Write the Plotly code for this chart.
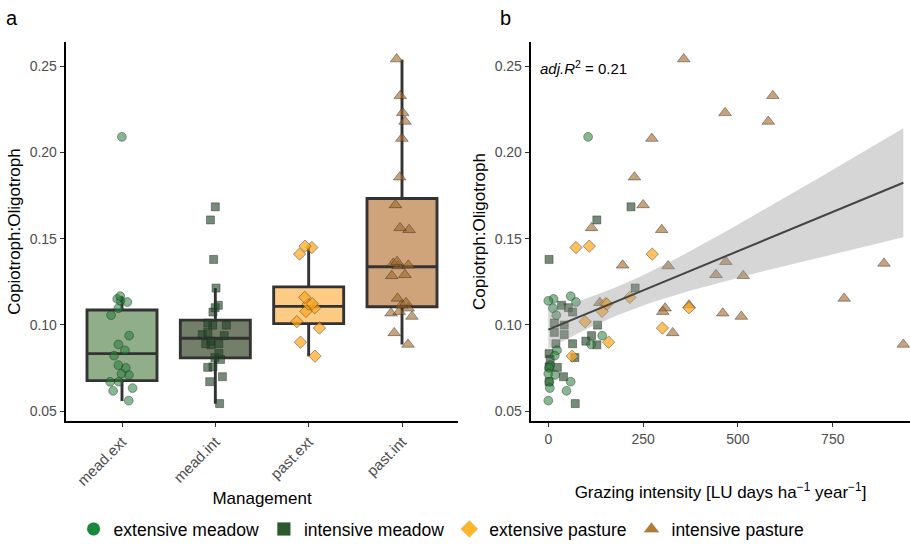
import numpy as np
import plotly.graph_objects as go

# ---------------- data ----------------
categories = ["mead.ext", "mead.int", "past.ext", "past.int"]
group_names = ["extensive meadow", "intensive meadow", "extensive pasture", "intensive pasture"]

ext_meadow_graz = [105, 59, 14, 0, 73, 12, 21, 142, 113, 23, 17, 5, 2, 0, 18, 3, 59, 4, 48, 0]
ext_meadow_ratio = [0.2091, 0.1167, 0.1151, 0.1140, 0.1133, 0.1097, 0.1057, 0.0938, 0.0887, 0.0853,
                    0.0822, 0.0767, 0.0751, 0.0717, 0.0710, 0.0670, 0.0671, 0.0634, 0.0618, 0.0561]

int_meadow_graz = [218, 128, 2, 229, 35, 53, 64, 16, 42, 130, 16, 42, 114, 99, 64, 128, 20, 2, 70, 5,
                   24, 2, 40, 2, 71]
int_meadow_ratio = [0.1685, 0.1609, 0.1380, 0.1214, 0.1114, 0.1100, 0.1075, 0.1011, 0.0999, 0.0999,
                    0.0957, 0.0944, 0.0938, 0.0906, 0.0891, 0.0885, 0.0891, 0.0834, 0.0811, 0.0800,
                    0.0754, 0.0757, 0.0700, 0.0671, 0.0544]

ext_pasture_graz = [73, 108, 274, 215, 151, 155, 142, 97, 301, 159, 63, 371]
ext_pasture_ratio = [0.1449, 0.1457, 0.1411, 0.1160, 0.1123, 0.1121, 0.1079, 0.1019, 0.0982, 0.0900,
                     0.0819, 0.1100]

int_pasture_graz = [357, 592, 466, 580, 273, 227, 250, 299, 114, 196, 316, 468, 442, 514, 885, 780,
                    136, 371, 308, 302, 460, 509, 328, 936]
int_pasture_ratio = [0.2542, 0.2329, 0.2230, 0.2180, 0.2081, 0.1857, 0.1696, 0.1552, 0.1563, 0.1346,
                     0.1342, 0.1367, 0.1291, 0.1285, 0.1357, 0.1154, 0.1129, 0.1115, 0.1097, 0.1077,
                     0.1068, 0.1049, 0.0954, 0.0887]

# box statistics
box_q1 = [0.0677, 0.0809, 0.1008, 0.1106]
box_median = [0.0834, 0.0923, 0.1108, 0.1338]
box_q3 = [0.1087, 0.1028, 0.1221, 0.1733]
box_lower = [0.0559, 0.0543, 0.0818, 0.0887]
box_upper = [0.1165, 0.1214, 0.1457, 0.2538]

y_ticks = [0.05, 0.10, 0.15, 0.20, 0.25]
x2_ticks = [0, 250, 500, 750]
r2_label = "<i>adj.R</i><sup>2</sup> = 0.21"

# ---------------- styles ----------------
FONT = "Liberation Sans, Arial, sans-serif"
box_fill = ["#8fae89", "#747f69", "#fdcb84", "#cfa47b"]
point_fill = ["rgba(35,125,55,0.55)", "rgba(30,70,35,0.62)", "rgba(255,168,30,0.72)", "rgba(165,105,40,0.62)"]
legend_fill = ["#17893a", "#2b5b2d", "#ffb627", "#b27b32"]
symbols = ["circle", "square", "diamond", "triangle-up"]
sizes = [8.8, 8, 9.5, 11]
outline = dict(color="rgba(40,40,40,0.55)", width=0.8)

graz = [ext_meadow_graz, int_meadow_graz, ext_pasture_graz, int_pasture_graz]
ratio = [ext_meadow_ratio, int_meadow_ratio, ext_pasture_ratio, int_pasture_ratio]

fig = go.Figure()

# panel a: boxes
for i, c in enumerate(categories):
    fig.add_trace(go.Box(
        x=[c], q1=[box_q1[i]], median=[box_median[i]], q3=[box_q3[i]],
        lowerfence=[box_lower[i]], upperfence=[box_upper[i]],
        fillcolor=box_fill[i], line=dict(color="#333333", width=2.9),
        whiskerwidth=0, width=0.75, boxpoints=False, showlegend=False,
        xaxis="x", yaxis="y", hoverinfo="skip"))

# panel a: jittered points
for i, c in enumerate(categories):
    fig.add_trace(go.Box(
        x=[c] * len(ratio[i]), y=ratio[i], boxpoints="all", jitter=0.4, pointpos=0,
        fillcolor="rgba(0,0,0,0)", line=dict(color="rgba(0,0,0,0)", width=0),
        width=0.75, whiskerwidth=0,
        marker=dict(symbol=symbols[i], size=sizes[i], color=point_fill[i], line=outline),
        showlegend=False, xaxis="x", yaxis="y"))

# panel b: scatter points
for i in [3, 1, 2, 0]:
    fig.add_trace(go.Scatter(
        x=graz[i], y=ratio[i], mode="markers",
        marker=dict(symbol=symbols[i], size=sizes[i], color=point_fill[i], line=outline),
        showlegend=False, xaxis="x2", yaxis="y2"))

# panel b: linear fit with 95% CI
xa = np.array(sum(graz, []), dtype=float)
ya = np.array(sum(ratio, []), dtype=float)
n = len(xa)
slope, intercept = np.polyfit(xa, ya, 1)
xs = np.linspace(xa.min(), xa.max(), 100)
yhat = intercept + slope * xs
resid = ya - (intercept + slope * xa)
s = np.sqrt(np.sum(resid ** 2) / (n - 2))
sxx = np.sum((xa - xa.mean()) ** 2)
se = s * np.sqrt(1.0 / n + (xs - xa.mean()) ** 2 / sxx)
tq = 1.99
upper = yhat + tq * se
lower = yhat - tq * se
fig.add_trace(go.Scatter(
    x=np.concatenate([xs, xs[::-1]]), y=np.concatenate([upper, lower[::-1]]),
    fill="toself", fillcolor="rgba(153,153,153,0.4)", line=dict(width=0),
    mode="lines", showlegend=False, hoverinfo="skip", xaxis="x2", yaxis="y2"))
fig.add_trace(go.Scatter(
    x=xs, y=yhat, mode="lines", line=dict(color="#444444", width=2),
    showlegend=False, xaxis="x2", yaxis="y2"))

# legend entries
for i, g in enumerate(group_names):
    fig.add_trace(go.Scatter(
        x=[None], y=[None], mode="markers", name=g,
        marker=dict(symbol=symbols[i], size=13, color=legend_fill[i],
                    line=dict(color="rgba(60,60,60,0.3)", width=0.5)),
        xaxis="x", yaxis="y"))

axis_common = dict(
    showline=True, linecolor="black", linewidth=1.6, ticks="outside", ticklen=4.5,
    tickwidth=1.3, tickcolor="#333333", showgrid=False, zeroline=False,
    tickfont=dict(size=14, color="#4d4d4d", family=FONT), automargin=False)

fig.update_layout(
    width=910, height=547, paper_bgcolor="white", plot_bgcolor="white",
    margin=dict(l=66, r=0, t=42, b=120.3),
    font=dict(family=FONT, color="black"),
    boxmode="overlay",
    xaxis=dict(domain=[0, 392 / 844], range=[-0.6, 3.6], type="category",
               categoryorder="array", categoryarray=categories, tickangle=-45,
               title=dict(text="Management", font=dict(size=17, color="black"), standoff=4),
               **{**axis_common, "tickfont": dict(size=15, color="#4d4d4d", family=FONT)}),
    yaxis=dict(domain=[0, 1], range=[0.0443, 0.2641], tickvals=y_ticks, tickformat=".2f",
               title=dict(text="Copiotroph:Oligotroph", font=dict(size=17, color="black"), standoff=5),
               **axis_common),
    xaxis2=dict(domain=[465 / 844, 1], range=[-45.6, 953.6], tickvals=x2_ticks, anchor="y2",
                title=dict(text="Grazing intensity [LU days ha<sup>\u22121</sup> year<sup>\u22121</sup>]",
                           font=dict(size=17, color="black"), standoff=40),
                **axis_common),
    yaxis2=dict(domain=[0, 1], range=[0.0443, 0.2641], tickvals=y_ticks, tickformat=".2f",
                anchor="x2",
                title=dict(text="Copiotrph:Oligotroph", font=dict(size=17, color="black"), standoff=5),
                **axis_common),
    legend=dict(orientation="h", x=0.445, xanchor="center", y=-0.286, yanchor="middle",
                font=dict(size=17.5, color="black", family=FONT), bgcolor="rgba(0,0,0,0)"),
    annotations=[
        dict(text="a", xref="paper", yref="paper", x=-54 / 844, y=(42 - 18) / 384.7 + 1,
             xanchor="center", yanchor="middle", showarrow=False, font=dict(size=20, color="black")),
        dict(text="b", xref="paper", yref="paper", x=(505 - 66) / 844, y=(42 - 18) / 384.7 + 1,
             xanchor="center", yanchor="middle", showarrow=False, font=dict(size=20, color="black")),
        dict(text=r2_label, xref="x2", yref="y2", x=-28, y=0.2493, xanchor="left",
             yanchor="middle", showarrow=False, font=dict(size=15, color="black")),
    ],
)

fig.write_html("out.html")
